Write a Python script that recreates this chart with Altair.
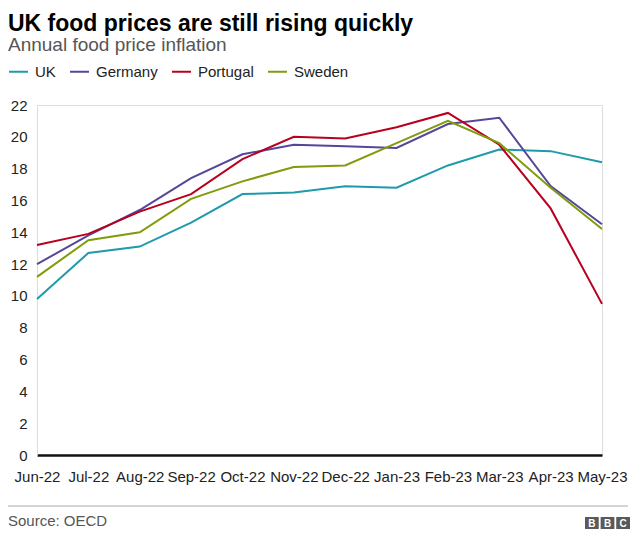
import altair as alt
import pandas as pd

months = ["Jun-22", "Jul-22", "Aug-22", "Sep-22", "Oct-22", "Nov-22",
          "Dec-22", "Jan-23", "Feb-23", "Mar-23", "Apr-23", "May-23"]
countries = ["UK", "Germany", "Portugal", "Sweden"]
uk = [9.8, 12.7, 13.1, 14.6, 16.4, 16.5, 16.9, 16.8, 18.2, 19.2, 19.1, 18.4]
germany = [12.0, 13.8, 15.4, 17.4, 18.9, 19.5, 19.4, 19.3, 20.8, 21.2, 16.9, 14.5]
portugal = [13.2, 13.9, 15.3, 16.4, 18.6, 20.0, 19.9, 20.6, 21.5, 19.5, 15.5, 9.5]
sweden = [11.2, 13.5, 14.0, 16.1, 17.2, 18.1, 18.2, 19.6, 21.0, 19.6, 16.8, 14.2]
colors = ["#1e9bab", "#54479a", "#b8001f", "#7e9c0c"]
y_ticks = list(range(0, 23, 2))

series = {"UK": uk, "Germany": germany, "Portugal": portugal, "Sweden": sweden}
rows = []
for c in countries:
    for m, v in zip(months, series[c]):
        rows.append({"month": m, "country": c, "value": v})
df = pd.DataFrame(rows)

FONT = "Liberation Sans"
W, H = 565, 350

lines = alt.Chart(df).mark_line(strokeWidth=2).encode(
    x=alt.X("month:N", sort=months,
            scale=alt.Scale(type="point", padding=0, domain=months),
            axis=alt.Axis(title=None, labelAngle=0, ticks=False, domain=True,
                          domainColor="#111", domainWidth=2.5,
                          labelFontSize=15, labelFont=FONT, labelColor="#222",
                          labelPadding=14, grid=False)),
    y=alt.Y("value:Q", scale=alt.Scale(domain=[0, 22], nice=False),
            axis=alt.Axis(title=None, values=y_ticks, ticks=False, grid=False,
                          domain=True, domainColor="#dddddd", domainWidth=1,
                          labelFontSize=15, labelFont=FONT, labelColor="#222",
                          labelPadding=10)),
    color=alt.Color("country:N", sort=countries,
                    scale=alt.Scale(domain=countries, range=colors),
                    legend=alt.Legend(title=None, orient="none", direction="horizontal",
                                      legendX=-29, legendY=-44,
                                      symbolType="stroke", symbolSize=361,
                                      symbolStrokeWidth=2, labelFontSize=15,
                                      labelFont=FONT, labelColor="#222",
                                      labelOffset=6, columnPadding=10)),
)

footer_rule = alt.Chart(pd.DataFrame({"a": [0]})).mark_rule(color="#aaaaaa", strokeWidth=1).encode(
    x=alt.value(-29), x2=alt.value(591), y=alt.value(401))

source = alt.Chart(pd.DataFrame({"t": ["Source: OECD"]})).mark_text(
    align="left", baseline="middle", fontSize=15, font=FONT, color="#555").encode(
    text="t:N", x=alt.value(-29), y=alt.value(416))

logo_letters = ["B", "B", "C"]
logo_df = pd.DataFrame({"letter": logo_letters, "i": [0, 1, 2]})
logo_scale = alt.Scale(type="band", range=[548, 593], paddingInner=0.12, paddingOuter=0)
logo_boxes = alt.Chart(logo_df).mark_rect(color="#5a5a5a").encode(
    x=alt.X("i:O", axis=None, scale=logo_scale),
    y=alt.value(412), y2=alt.value(424))
logo_text = alt.Chart(logo_df).mark_text(
    fontSize=10, font=FONT, fontWeight="bold", color="white", baseline="middle").encode(
    x=alt.X("i:O", axis=None, scale=logo_scale, bandPosition=0.5),
    y=alt.value(418.5), text="letter:N")

logo = alt.layer(logo_boxes, logo_text)

chart = alt.layer(lines, footer_rule, source, logo).resolve_scale(x="independent").properties(
    width=W, height=H,
    autosize=alt.AutoSizeParams(type="none"),
    padding={"left": 29, "top": 97, "right": 32, "bottom": 81},
    title=alt.Title("UK food prices are still rising quickly",
                    subtitle="Annual food price inflation",
                    anchor="start", frame="group", dx=-29, offset=6,
                    fontSize=23, font=FONT, fontWeight="bold", color="#000",
                    subtitleFontSize=19, subtitleFont=FONT, subtitleColor="#555",
                    subtitlePadding=0),
).configure_view(stroke=None).configure(background="white")

chart.save("out.html", embed_options={"renderer": "svg", "actions": False})
